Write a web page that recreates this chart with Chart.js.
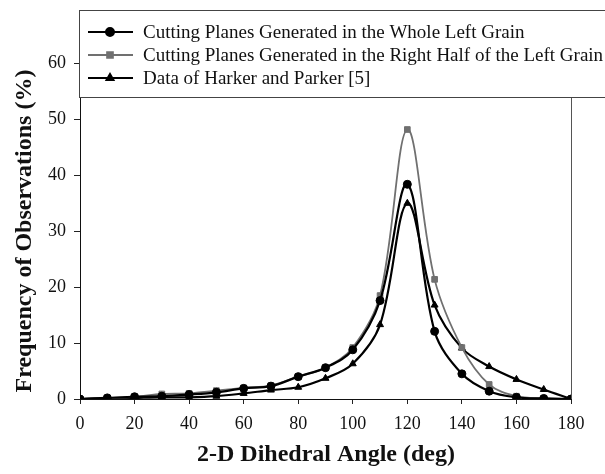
<!DOCTYPE html>
<html>
<head>
<meta charset="utf-8">
<script src="https://cdn.jsdelivr.net/npm/chart.js@4"></script>
<style>
  html, body { margin: 0; padding: 0; background: #fff; }
  #wrap { width: 605px; height: 474px; }
</style>
</head>
<body>
<div id="wrap"><canvas id="angleChart" width="605" height="474"></canvas></div>
<script>
// 2-D dihedral angle distribution (%)
const angles = [0, 10, 20, 30, 40, 50, 60, 70, 80, 90, 100, 110, 120, 130, 140, 150, 160, 170, 180];
const wholeGrain = [0, 0.2, 0.4, 0.5, 0.8, 1.2, 1.9, 2.3, 4.0, 5.6, 8.8, 17.6, 38.4, 12.1, 4.5, 1.4, 0.3, 0.1, 0];
const rightHalf = [0, 0.2, 0.4, 0.9, 1.0, 1.5, 2.0, 2.4, 4.0, 5.6, 9.2, 18.5, 48.2, 21.4, 9.2, 2.6, 0.5, 0.1, 0];
const harkerParker = [0, 0.1, 0.2, 0.3, 0.3, 0.5, 1.0, 1.6, 2.1, 3.7, 6.3, 13.3, 35.0, 16.8, 9.1, 5.8, 3.5, 1.7, 0];
const seriesLabels = [
    'Cutting Planes Generated in the Whole Left Grain',
    'Cutting Planes Generated in the Right Half of the Left Grain',
    'Data of Harker and Parker [5]'
];
const yTicks = [0, 10, 20, 30, 40, 50, 60];

const SERIF = '"Liberation Serif", "Times New Roman", serif';

function toPoints(values) {
    return angles.map((a, i) => ({ x: a, y: values[i] }));
}

function makeSeries(label, values, color, width, style) {
    return {
        label: label,
        data: toPoints(values),
        borderColor: color,
        backgroundColor: color,
        borderWidth: width,
        pointStyle: style,
        pointRadius: 4,
        pointBorderWidth: 1,
        tension: 0.35
    };
}

// legend box, frame edge and axis titles
const decorations = {
    id: 'decorations',
    beforeDatasetsDraw(chart) {
        const { ctx, chartArea } = chart;
        ctx.save();
        ctx.strokeStyle = '#555';
        ctx.lineWidth = 1;
        ctx.beginPath();
        ctx.moveTo(chartArea.left, chartArea.top + 0.5);
        ctx.lineTo(chartArea.right + 0.5, chartArea.top + 0.5);
        ctx.lineTo(chartArea.right + 0.5, chartArea.bottom);
        ctx.stroke();
        ctx.restore();
    },
    afterDraw(chart) {
        const { ctx } = chart;
        ctx.save();

        // legend
        ctx.fillStyle = '#fff';
        ctx.fillRect(79, 10, 540, 88);
        ctx.strokeStyle = '#444';
        ctx.lineWidth = 1;
        ctx.strokeRect(79.5, 10.5, 540, 87);

        const rows = [32, 55, 78];
        chart.data.datasets.forEach((ds, i) => {
            const y = rows[i];
            ctx.strokeStyle = ds.borderColor;
            ctx.lineWidth = 2;
            ctx.beginPath();
            ctx.moveTo(88, y);
            ctx.lineTo(133, y);
            ctx.stroke();
            ctx.fillStyle = ds.backgroundColor;
            Chart.helpers.drawPoint(ctx, {
                pointStyle: ds.pointStyle, radius: 4, rotation: 0, borderWidth: 1
            }, 110, y);
            ctx.fillStyle = '#111';
            ctx.font = '19px ' + SERIF;
            ctx.textBaseline = 'middle';
            ctx.textAlign = 'left';
            ctx.fillText(ds.label, 143, y + 1);
        });

        // axis titles
        ctx.fillStyle = '#111';
        ctx.font = 'bold 24px ' + SERIF;
        ctx.textAlign = 'center';
        ctx.textBaseline = 'middle';
        ctx.fillText('2-D Dihedral Angle (deg)', 326, 455);

        ctx.translate(25, 231);
        ctx.rotate(-Math.PI / 2);
        ctx.fillText('Frequency of Observations (%)', 0, 0);
        ctx.restore();
    }
};

const ctx = document.getElementById('angleChart').getContext('2d');
new Chart(ctx, {
    type: 'line',
    data: {
        datasets: [
            makeSeries(seriesLabels[0], wholeGrain, '#000', 2.2, 'circle'),
            makeSeries(seriesLabels[1], rightHalf, '#707070', 1.8, 'rect'),
            makeSeries(seriesLabels[2], harkerParker, '#000', 2.2, 'triangle')
        ]
    },
    options: {
        responsive: false,
        animation: false,
        layout: { padding: { top: 11, right: 34, left: 0, bottom: 0 } },
        plugins: {
            legend: { display: false },
            tooltip: { enabled: false }
        },
        scales: {
            x: {
                type: 'linear',
                min: 0,
                max: 180,
                ticks: { stepSize: 20, padding: 9, color: '#111', font: { family: SERIF, size: 18 } },
                grid: { drawOnChartArea: false, drawTicks: true, tickLength: 5, color: '#222' },
                border: { display: true, color: '#111', width: 1 },
                afterFit(scale) { scale.height = 75; }
            },
            y: {
                min: 0,
                max: 68,
                afterBuildTicks(scale) { scale.ticks = yTicks.map(v => ({ value: v })); },
                ticks: { padding: 8, color: '#111', font: { family: SERIF, size: 18 } },
                grid: { drawOnChartArea: false, drawTicks: true, tickLength: 6, color: '#222' },
                border: { display: true, color: '#111', width: 1 },
                afterFit(scale) { scale.width = 80; }
            }
        }
    },
    plugins: [decorations]
});
</script>
</body>
</html>
